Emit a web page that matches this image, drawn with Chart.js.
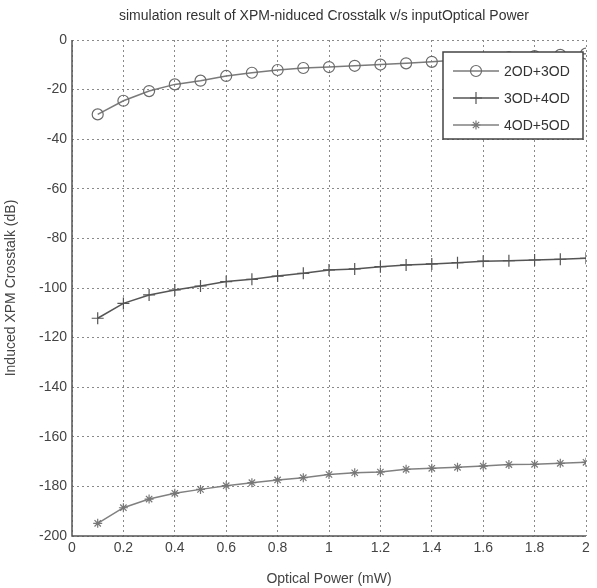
<!DOCTYPE html>
<html>
<head>
<meta charset="utf-8">
<script src="https://cdn.jsdelivr.net/npm/chart.js@4/dist/chart.umd.min.js"></script>
<style>
html,body{margin:0;padding:0;background:#fff;}
#wrap{width:597px;height:588px;position:relative;}
</style>
</head>
<body>
<div id="wrap"><canvas id="c" width="597" height="588"></canvas></div>
<script>
const titleText = 'simulation result of XPM-niduced Crosstalk v/s inputOptical Power';
const xTitle = 'Optical Power (mW)';
const yTitle = 'Induced XPM Crosstalk (dB)';
const seriesNames = ['2OD+3OD', '3OD+4OD', '4OD+5OD'];
const opticalPower = [0.1,0.2,0.3,0.4,0.5,0.6,0.7,0.8,0.9,1.0,1.1,1.2,1.3,1.4,1.5,1.6,1.7,1.8,1.9,2.0];
const xt2od3od = [-30,-24.5,-20.6,-17.9,-16.4,-14.5,-13.2,-12.1,-11.3,-10.9,-10.4,-9.9,-9.4,-8.8,-8.1,-7.5,-7,-6.5,-6,-5.5];
const xt3od4od = [-112.2,-106.2,-102.8,-100.8,-99.2,-97.4,-96.5,-95.2,-94.1,-92.7,-92.3,-91.4,-90.7,-90.3,-89.8,-89.2,-89,-88.7,-88.4,-88];
const xt4od5od = [-194.9,-188.6,-185.1,-182.8,-181.2,-179.7,-178.5,-177.4,-176.5,-175.2,-174.5,-174.2,-173.1,-172.7,-172.3,-171.8,-171.2,-171.1,-170.7,-170.3];
const xTickLabels = ['0','0.2','0.4','0.6','0.8','1','1.2','1.4','1.6','1.8','2'];
const yTickLabels = ['-200','-180','-160','-140','-120','-100','-80','-60','-40','-20','0'];

function pts(ys){ return opticalPower.map((x,i)=>({x:x,y:ys[i]})); }

const FONT = '"Liberation Sans", Arial, sans-serif';

const titlePlugin = {
  id:'topTitle',
  afterDraw(chart){
    const ctx = chart.ctx;
    ctx.save();
    ctx.font = '14px ' + FONT;
    ctx.fillStyle = '#333';
    ctx.textAlign = 'center';
    ctx.textBaseline = 'middle';
    ctx.fillText(titleText, 324, 16);
    ctx.restore();
  }
};

const boxPlugin = {
  id:'axisBox',
  beforeDatasetsDraw(chart){
    const ctx = chart.ctx, ca = chart.chartArea;
    ctx.save();
    ctx.strokeStyle = '#555';
    ctx.lineWidth = 1.5;
    ctx.beginPath();
    ctx.moveTo(ca.left, ca.top);
    ctx.lineTo(ca.left, ca.bottom);
    ctx.lineTo(ca.right, ca.bottom);
    ctx.stroke();
    ctx.restore();
  }
};

const legendPlugin = {
  id:'innerLegend',
  afterDatasetsDraw(chart){
    const ctx = chart.ctx;
    const x0 = 443, y0 = 52, w = 140, h = 87;
    ctx.save();
    ctx.fillStyle = '#fff';
    ctx.fillRect(x0, y0, w, h);
    ctx.strokeStyle = '#444';
    ctx.lineWidth = 1.5;
    ctx.strokeRect(x0, y0, w, h);
    chart.data.datasets.forEach((ds, i) => {
      const y = y0 + 19 + i*27;
      ctx.strokeStyle = ds.borderColor;
      ctx.lineWidth = ds.borderWidth;
      ctx.beginPath();
      ctx.moveTo(x0+10, y);
      ctx.lineTo(x0+56, y);
      ctx.stroke();
      ctx.strokeStyle = ds.pointBorderColor;
      ctx.fillStyle = ds.pointBackgroundColor;
      ctx.lineWidth = ds.pointBorderWidth;
      Chart.helpers.drawPoint(ctx, {
        pointStyle: ds.pointStyle, radius: ds.pointRadius, borderWidth: ds.pointBorderWidth, rotation: 0
      }, x0+33, y);
      ctx.fillStyle = '#333';
      ctx.font = '14px ' + FONT;
      ctx.textAlign = 'left';
      ctx.textBaseline = 'middle';
      ctx.fillText(ds.label, x0+61, y+1);
    });
    ctx.restore();
  }
};

new Chart(document.getElementById('c'), {
  type: 'line',
  data: {
    datasets: [
      { label: seriesNames[0], data: pts(xt2od3od), borderColor:'#7a7a7a', borderWidth:1.5,
        pointStyle:'circle', pointRadius:5.5, pointBorderWidth:1.2, pointBorderColor:'#6a6a6a',
        pointBackgroundColor:'rgba(255,255,255,0)', tension:0 },
      { label: seriesNames[1], data: pts(xt3od4od), borderColor:'#555', borderWidth:1.5,
        pointStyle:'cross', pointRadius:6, pointBorderWidth:1.2, pointBorderColor:'#555',
        pointBackgroundColor:'#555', tension:0 },
      { label: seriesNames[2], data: pts(xt4od5od), borderColor:'#808080', borderWidth:1.5,
        pointStyle:'star', pointRadius:4.5, pointBorderWidth:1.2, pointBorderColor:'#777',
        pointBackgroundColor:'#777', tension:0 }
    ]
  },
  options: {
    responsive:false,
    animation:false,
    layout:{ padding:{ top:40, right:11, left:0, bottom:0 } },
    plugins:{ legend:{display:false}, title:{display:false}, tooltip:{enabled:false} },
    scales:{
      x:{
        type:'linear', min:0, max:2,
        afterFit(s){ s.height = 52; },
        afterBuildTicks(s){ s.ticks = xTickLabels.map(v=>({value:parseFloat(v)})); },
        ticks:{ callback:(v,i)=>xTickLabels[i], color:'#444', font:{family:FONT,size:14}, padding:4, maxRotation:0, autoSkip:false },
        grid:{ color:'#8a8a8a', lineWidth:1, drawTicks:false },
        border:{ display:false, dash:[2,3] },
        title:{ display:true, text:xTitle, color:'#444', font:{family:FONT,size:14}, padding:{top:3,bottom:0} }
      },
      y:{
        type:'linear', min:-200, max:0,
        afterFit(s){ s.width = 72; },
        afterBuildTicks(s){ s.ticks = yTickLabels.map(v=>({value:parseFloat(v)})); },
        ticks:{ callback:(v,i)=>yTickLabels[i], color:'#444', font:{family:FONT,size:14}, padding:5, autoSkip:false },
        grid:{ color:'#8a8a8a', lineWidth:1, drawTicks:false },
        border:{ display:false, dash:[2,3] },
        title:{ display:true, text:yTitle, color:'#444', font:{family:FONT,size:14}, padding:{top:3,bottom:0} }
      }
    }
  },
  plugins:[titlePlugin, boxPlugin, legendPlugin]
});
</script>
</body>
</html>
